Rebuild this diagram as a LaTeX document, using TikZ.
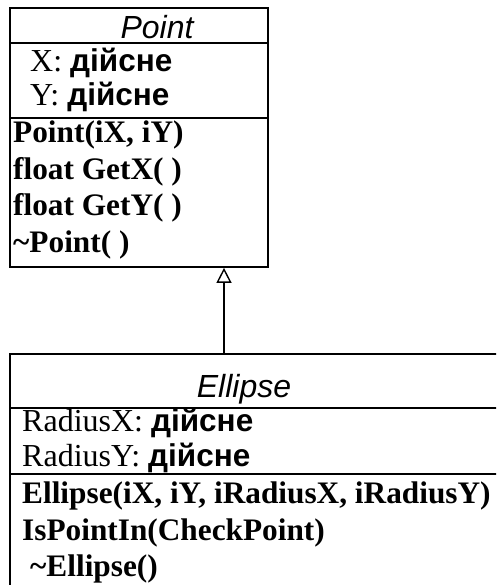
\documentclass[tikz,border=0pt]{standalone}
\usepackage{fontspec}
\setmainfont{Liberation Serif}
\newfontfamily\headfont{Liberation Sans}
\newfontfamily\typefont{Liberation Sans}
\usetikzlibrary{arrows.meta}

\tikzset{
  classbox/.style={draw=black, line width=1.7pt, rectangle, inner sep=0pt},
  sepline/.style={draw=black, line width=1.7pt},
  headtext/.style={anchor=base, inner sep=0pt, font=\headfont\itshape\fontsize{32}{36}\selectfont},
  attrtext/.style={anchor=base west, inner sep=0pt, font=\fontsize{32}{36}\selectfont},
  methtext/.style={anchor=base west, inner sep=0pt, font=\bfseries\fontsize{31.3}{36}\selectfont},
  inherits/.style={draw=black, line width=1.4pt, -{Triangle[open, length=15pt, width=15pt, line width=1.4pt]}}
}
\newcommand{\cyrtype}{{\typefont\bfseries\fontsize{31.5}{36}\selectfont дійсне}}

\begin{document}
\begin{tikzpicture}[x=1pt, y=-1pt]
  \useasboundingbox (0,0) rectangle (496,585);
  \clip (0,0) rectangle (496,585);
  \fill[white] (0,0) rectangle (496,585);

  % base class
  \node[classbox, minimum width=258pt, minimum height=259pt] (pointbox) at (139,137.5) {};
  \draw[sepline] (10,43) -- (268,43);
  \draw[sepline] (10,118) -- (268,118);
  \node[headtext] (pointname) at (157,39) {Point};
  \node[attrtext] (pattrx) at (30,72) {X: \cyrtype};
  \node[attrtext] (pattry) at (30,106) {Y: \cyrtype};
  \node[methtext] (pm1) at (13,143) {Point(iX, iY)};
  \node[methtext] (pm2) at (13,179) {float GetX( )};
  \node[methtext] (pm3) at (13,215) {float GetY( )};
  \node[methtext] (pm4) at (13,252) {\textasciitilde Point( )};

  % derived class
  \node[classbox, minimum width=560pt, minimum height=300pt] (ellipsebox) at (290,504) {};
  \draw[sepline] (10,408) -- (560,408);
  \draw[sepline] (10,474) -- (560,474);
  \node[headtext] (ellipsename) at (244,397) {Ellipse};
  \node[attrtext] (eattrx) at (22,431) {RadiusX: \cyrtype};
  \node[attrtext] (eattry) at (22,466) {RadiusY: \cyrtype};
  \node[methtext] (em1) at (22,503) {Ellipse(iX, iY, iRadiusX, iRadiusY)};
  \node[methtext] (em2) at (22,540) {IsPointIn(CheckPoint)};
  \node[methtext] (em3) at (30,576) {\textasciitilde Ellipse()};

  % generalisation
  \coordinate (ax) at (224,0);
  \draw[inherits] (ax |- ellipsebox.north) -- (ax |- pointbox.south);
\end{tikzpicture}
\end{document}
